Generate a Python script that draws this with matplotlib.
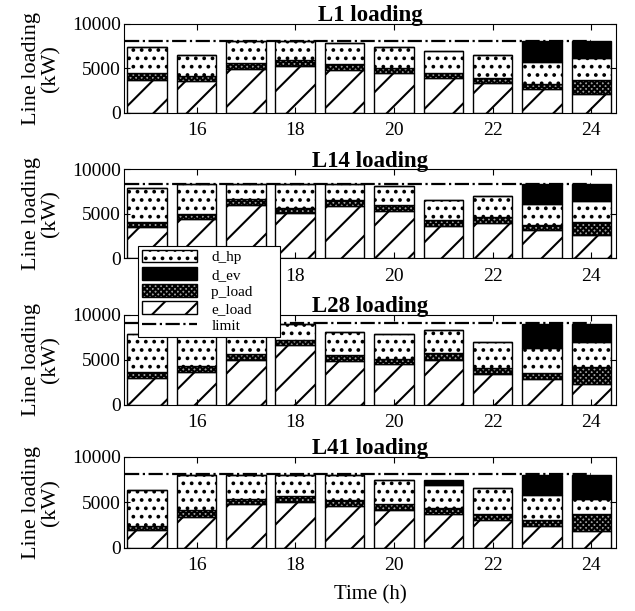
import numpy as np
import matplotlib
matplotlib.use('Agg')
import matplotlib.pyplot as plt

plt.rcParams['font.family'] = ['Liberation Serif', 'DejaVu Serif']
plt.rcParams['hatch.linewidth'] = 1.5

hours = np.arange(15, 25)
titles = ['L1 loading', 'L14 loading', 'L28 loading', 'L41 loading']
limits = [8100, 8350, 9050, 8050]

# 各线路各时段负荷分量 (kW)
e_load = [
    [3700, 3570, 4960, 5300, 4850, 4440, 3870, 3310, 2630, 2140],
    [3480, 4420, 5990, 5090, 5880, 5360, 3670, 4010, 3150, 2620],
    [2930, 3670, 4930, 6590, 4850, 4480, 4960, 3410, 2820, 2330],
    [1900, 3390, 4750, 5070, 4600, 4160, 3650, 3070, 2340, 1830],
]
p_load = [
    [740, 600, 600, 600, 600, 600, 640, 600, 600, 1540],
    [560, 560, 640, 600, 640, 600, 600, 600, 640, 1460],
    [740, 630, 660, 630, 630, 630, 740, 700, 740, 1890],
    [510, 700, 650, 660, 660, 660, 660, 660, 660, 1820],
]
d_hp = [
    [3000, 2300, 2480, 2150, 2370, 2410, 2410, 2560, 2480, 2440],
    [3900, 3330, 1690, 2620, 1800, 2140, 2280, 2360, 2280, 2360],
    [4220, 3590, 3360, 1740, 2630, 2700, 2630, 2820, 2700, 2780],
    [3900, 3870, 2560, 2230, 2700, 2660, 2630, 2810, 2810, 1750],
]
d_ev = [
    [0, 0, 0, 0, 0, 0, 0, 0, 2410, 1990],
    [0, 0, 0, 0, 0, 0, 0, 0, 2250, 1870],
    [0, 0, 0, 0, 0, 0, 0, 0, 2700, 1960],
    [0, 0, 0, 0, 0, 0, 510, 0, 2150, 2550],
]

W, H = 635, 611
fig = plt.figure(figsize=(W / 100, H / 100), dpi=100)
tops = [24.0, 169.3, 314.7, 456.7]
bottoms = [112.7, 258.3, 404.7, 547.7]
handles = None
for i in range(4):
    ax = fig.add_axes([124 / W, 1 - bottoms[i] / H, 492 / W, (bottoms[i] - tops[i]) / H])
    e = np.array(e_load[i])
    p = np.array(p_load[i])
    hp = np.array(d_hp[i])
    ev = np.array(d_ev[i])
    kw = dict(width=0.8, edgecolor='black', linewidth=1.0)
    b1 = ax.bar(hours, e, facecolor='white', hatch='/', **kw)
    b2 = ax.bar(hours, p, bottom=e, facecolor='#a0a0a0', hatch='xxxxxx', **kw)
    b3 = ax.bar(hours, hp, bottom=e + p, facecolor='white', hatch='..', **kw)
    b4 = ax.bar(hours, ev, bottom=e + p + hp, facecolor='black', **kw)
    l, = ax.plot([14.55, 24.0], [limits[i], limits[i]], color='black',
                 linestyle='-.', linewidth=1.6)
    ax.set_xlim(14.53, 24.5)
    ax.set_ylim(0, 10000)
    ax.set_xticks([16, 18, 20, 22, 24])
    ax.set_yticks([0, 5000, 10000])
    ax.tick_params(direction='in', top=True, right=True, labelsize=14, length=4)
    ax.tick_params(axis='x', pad=7)
    ax.tick_params(axis='y', pad=2)
    ax.set_title(titles[i], fontsize=16.5, fontweight='bold', pad=2)
    ax.set_ylabel('Line loading\n(kW)', fontsize=16, linespacing=1.0)
    ax.yaxis.set_label_coords(-0.13, 0.5)
    if i == 3:
        ax.set_xlabel('Time (h)', fontsize=15, labelpad=8)
    if handles is None:
        handles = [b3, b4, b2, b1, l]

# 图例框右侧留白较宽
labels = ['d_hp', 'd_ev', 'p_load      ', 'e_load', 'limit']
leg = fig.legend(handles, labels,
                 loc='upper left', bbox_to_anchor=(138 / W, 1 - 246 / H),
                 borderaxespad=0, fontsize=11, frameon=True, fancybox=False,
                 edgecolor='black', handlelength=3.6, handleheight=0.9,
                 labelspacing=0.17, borderpad=0.25, handletextpad=0.95,
                 framealpha=1)
leg.get_frame().set_linewidth(0.8)

fig.savefig('out.png', dpi=100)
